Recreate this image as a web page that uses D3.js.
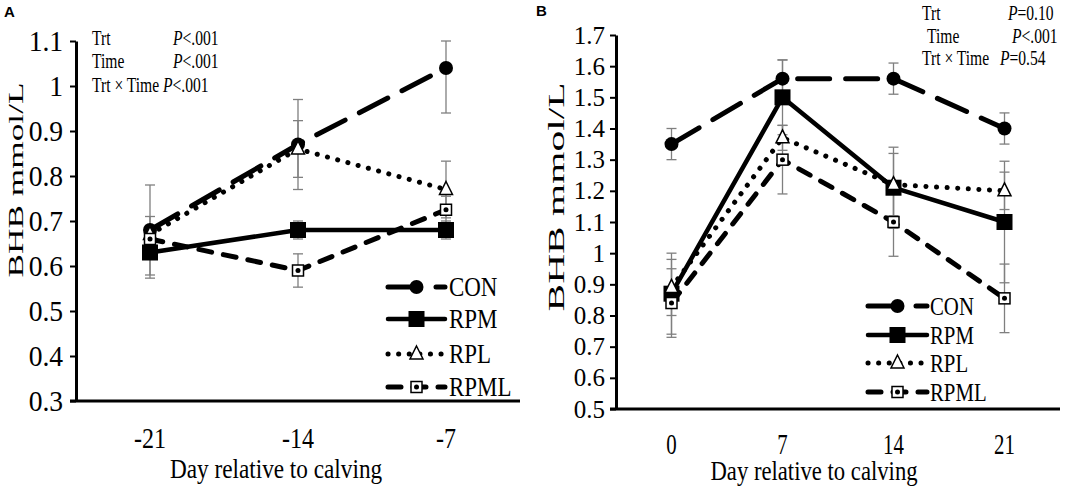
<!DOCTYPE html>
<html>
<head>
<meta charset="utf-8">
<script src="https://cdn.jsdelivr.net/npm/d3@7"></script>
<style>
  body { margin: 0; background: #fff; }
  svg { display: block; }
  text { font-family: "Liberation Serif", "Times New Roman", serif; fill: #000; }
</style>
</head>
<body>
<div id="chart"></div>
<script>
// ---- data ----
var seriesNames = ["CON", "RPM", "RPL", "RPML"];

// panel A, prepartum
var daysA = ["-21", "-14", "-7"];
var yTicksA = [0.3, 0.4, 0.5, 0.6, 0.7, 0.8, 0.9, 1.0, 1.1];
var conA = [0.68, 0.87, 1.04];
var conA_se = [0.10, 0.10, 0.10];
var rpmA = [0.63, 0.68, 0.68];
var rpmA_se = [0.057, 0.02, 0.02];
var rplA = [0.67, 0.86, 0.77];
var rplA_se = [0.04, 0.063, 0.063];
var rpmlA = [0.66, 0.59, 0.725];
var rpmlA_se = [0.03, 0.037, 0.03];
var statsA = [["Trt", "<.001"], ["Time", "<.001"], ["Trt × Time", "<.001"]];

// panel B, postpartum
var daysB = ["0", "7", "14", "21"];
var yTicksB = [0.5, 0.6, 0.7, 0.8, 0.9, 1.0, 1.1, 1.2, 1.3, 1.4, 1.5, 1.6, 1.7];
var conB = [1.35, 1.56, 1.56, 1.40];
var conB_se = [0.05, 0.06, 0.05, 0.05];
var rpmB = [0.87, 1.50, 1.21, 1.10];
var rpmB_se = [0.13, 0.12, 0.13, 0.195];
var rplB = [0.89, 1.37, 1.22, 1.20];
var rplB_se = [0.09, 0.04, 0.10, 0.06];
var rpmlB = [0.84, 1.30, 1.10, 0.855];
var rpmlB_se = [0.11, 0.11, 0.11, 0.11];
var statsB = [["Trt", "=0.10"], ["Time", "<.001"], ["Trt × Time", "=0.54"]];

// ---- styles per series ----
var styles = {
    CON:  { dash: "32,16", width: 5, marker: "circle" },
    RPM:  { dash: null, width: 4.5, marker: "bigsquare" },
    RPL:  { dash: "0.1,10.5", width: 5, marker: "triangle" },
    RPML: { dash: "13,12", width: 5, marker: "square" }
};

var W = 1084, H = 493;
var svg = d3.select("#chart").append("svg")
    .attr("width", W)
    .attr("height", H);

// horizontal text that is squeezed a little, like the original picture
function txt(parent, x, y, str, size, sx, anchor) {
    return parent.append("text")
        .attr("transform", "translate(" + x + "," + y + ") scale(" + sx + ",1)")
        .attr("text-anchor", anchor || "start")
        .style("font-size", size + "px")
        .text(str);
}

function drawMarker(g, type, x, y) {
    if (type === "circle") {
        g.append("circle").attr("cx", x).attr("cy", y).attr("r", 7).attr("fill", "#000");
    } else if (type === "bigsquare") {
        g.append("rect").attr("x", x - 8).attr("y", y - 8).attr("width", 16).attr("height", 16).attr("fill", "#000");
    } else if (type === "triangle") {
        g.append("path")
            .attr("d", "M" + x + "," + (y - 8) + "L" + (x + 6.5) + "," + (y + 5) + "L" + (x - 6.5) + "," + (y + 5) + "Z")
            .attr("fill", "#fff").attr("stroke", "#000").attr("stroke-width", 1.5);
    } else {
        g.append("rect").attr("x", x - 5.5).attr("y", y - 5.5).attr("width", 11).attr("height", 11)
            .attr("fill", "#fff").attr("stroke", "#000").attr("stroke-width", 1.5);
        g.append("circle").attr("cx", x).attr("cy", y).attr("r", 2.5).attr("fill", "#000");
    }
}

function drawPanel(p) {
    var g = svg.append("g");

    var x = d3.scaleBand().domain(p.cats).range([p.left, p.right]);
    var y = d3.scaleLinear().domain([p.ticks[0], p.ticks[p.ticks.length - 1]]).range([p.bottom, p.top]);
    var cx = function (i) { return x(p.cats[i]) + x.bandwidth() / 2; };

    // y axis
    var yAxis = d3.axisLeft(y)
        .tickValues(p.ticks)
        .tickSize(6)
        .tickSizeOuter(0)
        .tickPadding(p.yPad)
        .tickFormat(function (d) { return String(+d.toFixed(1)); });
    var ya = g.append("g")
        .attr("transform", "translate(" + p.left + ",0)")
        .call(yAxis);
    ya.select(".domain").attr("stroke", "#000").attr("stroke-width", 3);
    ya.selectAll(".tick line").attr("stroke", "#000").attr("stroke-width", 2);
    ya.selectAll(".tick text")
        .style("font-size", p.yFont + "px")
        .attr("transform", "scale(" + p.ySx + ",1)");

    // x axis (no tick marks in the original)
    var xAxis = d3.axisBottom(x).tickSize(0).tickPadding(p.xPad);
    var xa = g.append("g")
        .attr("transform", "translate(0," + p.bottom + ")")
        .call(xAxis);
    xa.select(".domain").remove();
    xa.selectAll(".tick text")
        .style("font-size", p.xFont + "px")
        .attr("transform", "scale(" + p.xSx + ",1)");
    g.append("line")
        .attr("x1", p.left - 6).attr("x2", p.right)
        .attr("y1", p.bottom).attr("y2", p.bottom)
        .attr("stroke", "#000").attr("stroke-width", 3);

    // axis titles
    txt(g, p.xTitle[0], p.xTitle[1], "Day relative to calving", p.xTitle[2], p.xTitle[3], "middle");
    g.append("text")
        .attr("transform", "translate(" + p.yTitle[0] + "," + p.yTitle[1] + ") rotate(-90)")
        .attr("text-anchor", "middle")
        .attr("textLength", p.yTitle[3])
        .attr("lengthAdjust", "spacingAndGlyphs")
        .style("font-size", p.yTitle[2] + "px")
        .text("BHB mmol/L");

    // error bars first, grey
    var lo = y.domain()[0], hi = y.domain()[1];
    p.series.forEach(function (s) {
        s.vals.forEach(function (v, i) {
            var top = Math.min(v + s.se[i], hi), bot = Math.max(v - s.se[i], lo);
            var xx = cx(i);
            g.append("line").attr("x1", xx).attr("x2", xx).attr("y1", y(top)).attr("y2", y(bot))
                .attr("stroke", "#7f7f7f").attr("stroke-width", 1.3);
            [top, bot].forEach(function (e) {
                g.append("line").attr("x1", xx - 5).attr("x2", xx + 5).attr("y1", y(e)).attr("y2", y(e))
                    .attr("stroke", "#7f7f7f").attr("stroke-width", 1.3);
            });
        });
    });

    // lines and markers, series by series
    var line = d3.line().x(function (d, i) { return cx(i); }).y(function (d) { return y(d); });
    p.series.forEach(function (s) {
        var st = styles[s.name];
        g.append("path")
            .datum(s.vals)
            .attr("d", line)
            .attr("fill", "none")
            .attr("stroke", "#000")
            .attr("stroke-width", st.width)
            .attr("stroke-linecap", "round")
            .attr("stroke-linejoin", "round")
            .attr("stroke-dasharray", st.dash);
        s.vals.forEach(function (v, i) { drawMarker(g, st.marker, cx(i), y(v)); });
    });

    // legend
    p.series.forEach(function (s, k) {
        var st = styles[s.name];
        var ry = p.legend.rows[k];
        g.append("line")
            .attr("x1", p.legend.x0).attr("x2", p.legend.x1)
            .attr("y1", ry).attr("y2", ry)
            .attr("stroke", "#000")
            .attr("stroke-width", st.width)
            .attr("stroke-linecap", "round")
            .attr("stroke-dasharray", st.dash);
        drawMarker(g, st.marker, (p.legend.x0 + p.legend.x1) / 2, ry);
        txt(g, p.legend.tx, ry + 9, s.name, p.legend.font, p.legend.sx);
    });

    // statistics block
    p.stats.forEach(function (r, k) {
        var pos = p.statPos[k];
        txt(g, pos[0], pos[1], r[0], 20, 0.78);
        var t = txt(g, pos[2], pos[1], "", 20, 0.78);
        t.append("tspan").style("font-style", "italic").text("P");
        t.append("tspan").text(r[1]);
    });

    // panel letter
    g.append("text")
        .attr("x", p.letter[1]).attr("y", p.letter[2])
        .style("font-family", "'Liberation Sans', Arial, sans-serif")
        .style("font-weight", "bold")
        .style("font-size", "15px")
        .text(p.letter[0]);
}

drawPanel({
    cats: daysA, ticks: yTicksA,
    left: 76, right: 520, top: 41, bottom: 401,
    yFont: 30, ySx: 0.92, yPad: 8,
    xFont: 29, xSx: 0.83, xPad: 26,
    xTitle: [276, 478, 28, 0.83],
    yTitle: [23, 180, 22, 195],
    series: [
        { name: "CON", vals: conA, se: conA_se },
        { name: "RPM", vals: rpmA, se: rpmA_se },
        { name: "RPL", vals: rplA, se: rplA_se },
        { name: "RPML", vals: rpmlA, se: rpmlA_se }
    ],
    legend: { rows: [287, 319, 354, 387], x0: 388, x1: 445, tx: 449, font: 27, sx: 0.85 },
    stats: statsA,
    statPos: [[92, 45, 173], [92, 68, 173], [92, 92, 163]],
    letter: ["A", 4, 17]
});

drawPanel({
    cats: daysB, ticks: yTicksB,
    left: 616, right: 1060, top: 35, bottom: 409,
    yFont: 25, ySx: 1, yPad: 5,
    xFont: 29, xSx: 0.72, xPad: 24,
    xTitle: [814, 480, 27, 0.84],
    yTitle: [564, 197, 23, 229],
    series: [
        { name: "CON", vals: conB, se: conB_se },
        { name: "RPM", vals: rpmB, se: rpmB_se },
        { name: "RPL", vals: rplB, se: rplB_se },
        { name: "RPML", vals: rpmlB, se: rpmlB_se }
    ],
    legend: { rows: [306, 335, 363, 392], x0: 868, x1: 927, tx: 930, font: 26, sx: 0.8 },
    stats: statsB,
    statPos: [[922, 20, 1008], [927, 43, 1012], [922, 65, 1000]],
    letter: ["B", 536, 16]
});
</script>
</body>
</html>
